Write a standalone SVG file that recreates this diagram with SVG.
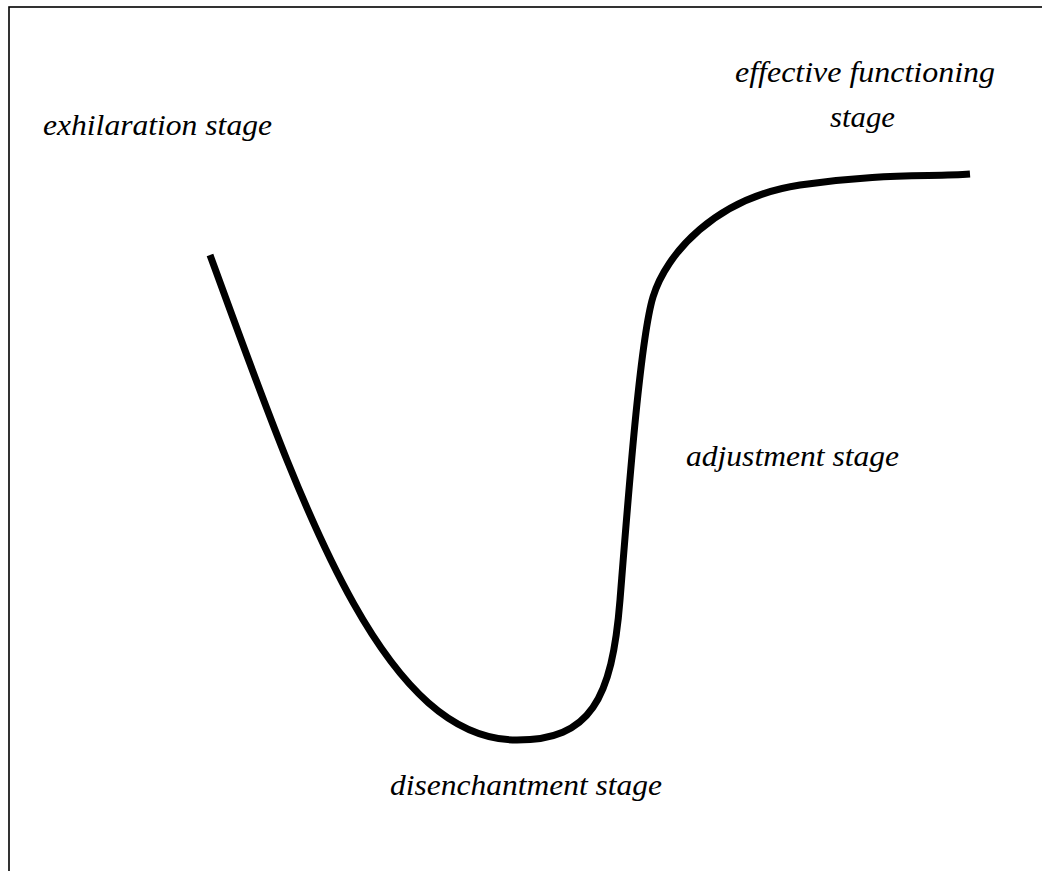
<svg xmlns="http://www.w3.org/2000/svg" width="1042" height="871" viewBox="0 0 1042 871">
<style>
.lbl{font-family:'Liberation Serif','Times New Roman',Times,serif;font-style:italic;font-weight:normal;font-size:30px;fill:#000}
.curve{fill:none;stroke:#000;stroke-width:7;stroke-linecap:butt;stroke-linejoin:round}
</style>
<rect x="0" y="0" width="1042" height="871" fill="#fff"/>
<rect x="9" y="7" width="1100" height="1000" fill="none" stroke="#000" stroke-width="1.6"/>
<g id="connectors">
<path class="curve" d="M210,255 C300,500 380,740 517,740 C590,740 612,700 620,600 C628,500 640,340 653,297 C666,254 715,198 800,185 C880,173 930,177 970,174"/>
</g>
<g id="exhilaration"><text class="lbl" x="43" y="135" textLength="229" lengthAdjust="spacingAndGlyphs">exhilaration stage</text></g>
<g id="effective"><text class="lbl" x="735" y="82" textLength="260" lengthAdjust="spacingAndGlyphs">effective functioning</text><text class="lbl" x="830" y="127" textLength="65" lengthAdjust="spacingAndGlyphs">stage</text></g>
<g id="adjustment"><text class="lbl" x="686" y="466" textLength="213" lengthAdjust="spacingAndGlyphs">adjustment stage</text></g>
<g id="disenchantment"><text class="lbl" x="390" y="795" textLength="272" lengthAdjust="spacingAndGlyphs">disenchantment stage</text></g>
</svg>
